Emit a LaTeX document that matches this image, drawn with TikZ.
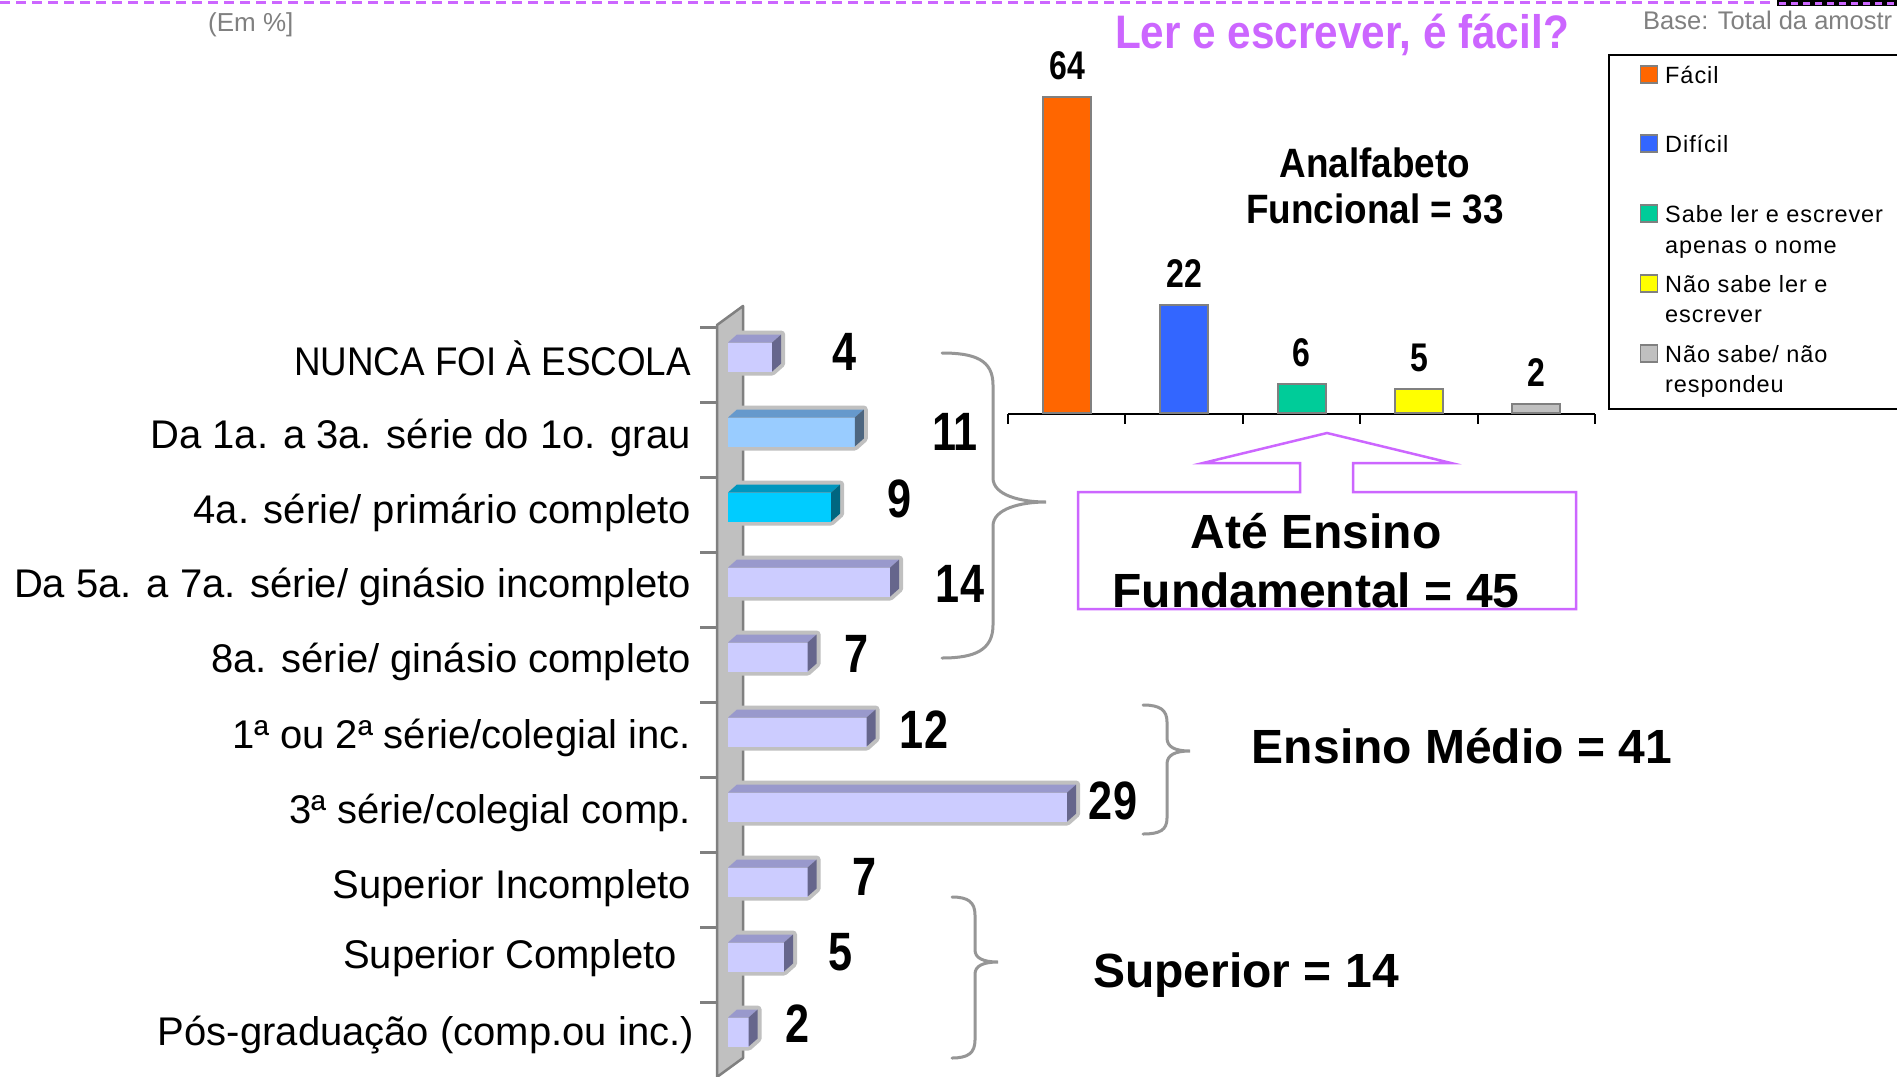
\documentclass[tikz,border=0pt]{standalone}
\usepackage{fontspec}
\setmainfont{Liberation Sans}
\newfontfamily\estreita[FakeStretch=0.8]{Liberation Sans Bold}
\newfontfamily\alta[FakeStretch=0.9]{Liberation Sans Bold}
\newfontfamily\espacada[LetterSpace=4]{Liberation Sans}

\definecolor{violeta}{RGB}{204,102,255}
\definecolor{cinza}{RGB}{128,128,128}
\definecolor{parede}{RGB}{192,192,192}
\definecolor{contorno}{RGB}{192,192,192}
\definecolor{chave}{RGB}{150,150,150}
\definecolor{lavF}{RGB}{204,204,255}
\definecolor{lavT}{RGB}{153,153,204}
\definecolor{lavS}{RGB}{102,102,140}
\definecolor{celF}{RGB}{153,204,255}
\definecolor{celT}{RGB}{102,153,204}
\definecolor{celS}{RGB}{77,102,128}
\definecolor{ciaF}{RGB}{0,204,255}
\definecolor{ciaT}{RGB}{0,150,190}
\definecolor{ciaS}{RGB}{0,102,128}
\definecolor{laranja}{RGB}{255,102,0}
\definecolor{azul}{RGB}{51,102,255}
\definecolor{verde}{RGB}{0,204,153}
\definecolor{amarelo}{RGB}{255,255,0}
\definecolor{cinzaclaro}{RGB}{192,192,192}

\begin{document}
\begin{tikzpicture}[x=1pt,y=-1pt,
    rotulo/.style={anchor=base east,inner sep=0pt,font=\fontsize{40}{48}\selectfont},
    valor/.style={anchor=base,inner sep=0pt,font=\estreita\fontsize{54}{60}\selectfont},
    valorcol/.style={anchor=base,inner sep=0pt,font=\estreita\fontsize{40}{48}\selectfont},
    grupo/.style={anchor=base,inner sep=0pt,font=\bfseries\fontsize{48}{56}\selectfont},
    legenda/.style={anchor=base west,inner sep=0pt,font=\espacada\fontsize{23.5}{28}\selectfont},
    quadro/.style={draw=cinza,line width=1.5pt,minimum size=17pt,inner sep=0pt},
    chaveta/.style={draw=chave,line width=3pt,line cap=round},
    coluna/.style={draw=cinza,line width=2pt}]
            \useasboundingbox[fill=white] (0,0) rectangle (1897,1076);

            % linha do topo
            \draw[violeta, line width=3pt, dash pattern=on 10pt off 6pt] (0,2) -- (1775,2);
            \fill[black] (1777,0) rectangle (1897,6);
            \draw[violeta, line width=3pt, dash pattern=on 7pt off 5pt] (1779,3) -- (1897,3);

            \node[anchor=base west, inner sep=0pt, text=cinza, font=\fontsize{26}{30}\selectfont] (em) at (208,31) {(Em \%]};
            \node[anchor=base west, inner sep=0pt, text=cinza, font=\fontsize{25.5}{30}\selectfont] (base) at (1643,29) {Base: Total da amostr};
            \node[anchor=base, inner sep=0pt, text=violeta, font=\alta\fontsize{47}{52}\selectfont] (titulo) at (1342,48) {Ler e escrever, é fácil?};

            % parede do eixo
            \filldraw[fill=parede, draw=cinza, line width=2.5pt, line join=round] (717,1077) -- (717,325) -- (743,306) -- (743,1058) -- cycle;
            \foreach \k in {0,...,9}
                \draw[cinza, line width=3pt] (700,{327+75*\k}) -- (717,{327+75*\k});

            % barras 3D
            \foreach \v/\cor/\nx/\ny [count=\i from 0] in {4/lav/845/370, 11/cel/955/450, 9/cia/900/517, 14/lav/960/602, 7/lav/857/672, 12/lav/924/748, 29/lav/1113/819, 7/lav/865/895, 5/lav/841/970, 2/lav/798/1042} {
                \pgfmathsetmacro\c{357+75*\i}
                \pgfmathsetmacro\L{11.8*\v-3}
                \filldraw[contorno, line width=8pt, line join=round] (728,\c-14.5) -- (737,\c-22.5) -- ({737+\L},\c-22.5) -- ({737+\L},\c+6.5) -- ({728+\L},\c+14.5) -- (728,\c+14.5) -- cycle;
                \fill[\cor F] (728,\c-14.5) rectangle ({728+\L},\c+14.5);
                \fill[\cor T] (728,\c-14.5) -- (737,\c-22.5) -- ({737+\L},\c-22.5) -- ({728+\L},\c-14.5) -- cycle;
                \fill[\cor S] ({728+\L},\c-14.5) -- ({737+\L},\c-22.5) -- ({737+\L},\c+6.5) -- ({728+\L},\c+14.5) -- cycle;
                \node[valor] (v\i) at (\nx,\ny) {\v};
            }

            \node[rotulo] (r0) at (691,375) {\scalebox{0.92}[1]{NUNCA FOI À ESCOLA}};
            \node[rotulo] (r1) at (691,448) {Da 1a. a 3a. série do 1o. grau};
            \node[rotulo] (r2) at (691,523) {4a. série/ primário completo};
            \node[rotulo] (r3) at (691,597) {Da 5a. a 7a. série/ ginásio incompleto};
            \node[rotulo] (r4) at (691,672) {8a. série/ ginásio completo};
            \node[rotulo] (r5) at (691,748) {1ª ou 2ª série/colegial inc.};
            \node[rotulo] (r6) at (691,823) {3ª série/colegial comp.};
            \node[rotulo] (r7) at (691,898) {Superior Incompleto};
            \node[rotulo] (r8) at (677,968) {Superior Completo};
            \node[rotulo] (r9) at (694,1045) {Pós-graduação (comp.ou inc.)};

            % chavetas
            \draw[chaveta] (942,353) .. controls (975,353) and (993,360) .. (993,385) -- (993,478) .. controls (993,495) and (1020,502) .. (1046,502) .. controls (1020,502) and (993,509) .. (993,526) -- (993,625) .. controls (993,650) and (975,658) .. (942,658);
            \draw[chaveta] (1143,705) .. controls (1160,705) and (1167,710) .. (1167,722) -- (1167,738) .. controls (1167,747) and (1175,751) .. (1190,751) .. controls (1175,751) and (1167,755) .. (1167,764) -- (1167,818) .. controls (1167,830) and (1160,834) .. (1143,834);
            \draw[chaveta] (952,897) .. controls (968,897) and (975,902) .. (975,915) -- (975,950) .. controls (975,958) and (983,962) .. (998,962) .. controls (983,962) and (975,966) .. (975,974) -- (975,1040) .. controls (975,1053) and (968,1058) .. (952,1058);

            \node[grupo] (medio) at (1462,763) {Ensino Médio = 41};
            \node[grupo] (superior) at (1246,987) {Superior = 14};

            % caixa com seta
            \draw[violeta, line width=2.5pt] (1300,492) -- (1078,492) -- (1078,609) -- (1576,609) -- (1576,492) -- (1353,492) -- (1353,463) -- (1451,463) -- (1327,433) -- (1203,463) -- (1300,463) -- cycle;
            \node[grupo] (fund1) at (1316,548) {Até Ensino};
            \node[grupo] (fund2) at (1316,607) {Fundamental = 45};

            % colunas
            \draw[line width=2pt] (1008,414) -- (1595,414);
            \foreach \x in {0,...,5}
                \draw[line width=2pt] ({1008+117.4*\x},414) -- ({1008+117.4*\x},424);
            \foreach \v/\cor [count=\i from 0] in {64/laranja, 22/azul, 6/verde, 5/amarelo, 2/cinzaclaro} {
                \pgfmathsetmacro\xc{1067+117.3*\i}
                \pgfmathsetmacro\h{4.95*\v}
                \filldraw[coluna, fill=\cor] ({\xc-24},413) rectangle ({\xc+24},{414-\h});
                \node[valorcol] (c\i) at (\xc,{414-\h-18}) {\v};
            }
            \node[anchor=base, inner sep=0pt, font=\alta\fontsize{41}{46}\selectfont] (anf1) at (1375,177) {Analfabeto};
            \node[anchor=base, inner sep=0pt, font=\alta\fontsize{41}{46}\selectfont] (anf2) at (1375,223) {Funcional = 33};

            % legenda
            \draw[line width=2.5pt] (1609,55) rectangle (1915,409);
            \node[quadro, fill=laranja] (q0) at (1649,74.5) {};
            \node[quadro, fill=azul] (q1) at (1649,143.5) {};
            \node[quadro, fill=verde] (q2) at (1649,213.5) {};
            \node[quadro, fill=amarelo] (q3) at (1649,283.5) {};
            \node[quadro, fill=cinzaclaro] (q4) at (1649,353.5) {};
            \node[legenda] (t0) at (1665,83) {Fácil};
            \node[legenda] (t1) at (1665,152) {Difícil};
            \node[legenda] (t2) at (1665,222) {Sabe ler e escrever};
            \node[legenda] (t2b) at (1665,253) {apenas o nome};
            \node[legenda] (t3) at (1665,292) {Não sabe ler e};
            \node[legenda] (t3b) at (1665,322) {escrever};
            \node[legenda] (t4) at (1665,362) {Não sabe/ não};
            \node[legenda] (t4b) at (1665,392) {respondeu};
        \end{tikzpicture}
\end{document}
